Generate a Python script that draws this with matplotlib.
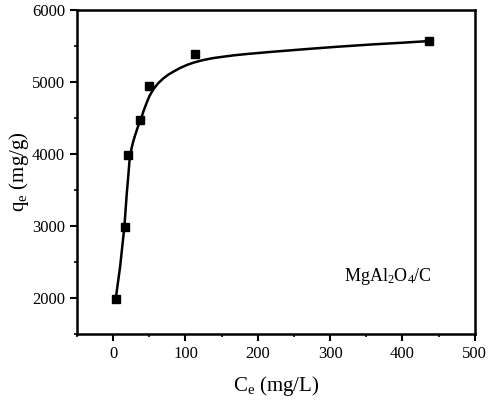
import numpy as np
import matplotlib
matplotlib.use("Agg")
import matplotlib.pyplot as plt
from matplotlib.ticker import MultipleLocator

plt.rcParams['font.family'] = ['Liberation Serif', 'DejaVu Serif']
plt.rcParams['mathtext.fontset'] = 'custom'
plt.rcParams['mathtext.rm'] = 'Liberation Serif'
plt.rcParams['mathtext.it'] = 'Liberation Serif:italic'

# experimental points
ce = [3.7, 16.6, 21.2, 37.7, 50.2, 113.7, 436.5]
qe = [1990, 2980, 3985, 4470, 4950, 5395, 5570]

# fitted curve
ce_fit = [3.7, 9.7, 15.6, 18.9, 21.2, 22.6, 24.0, 26.0, 28.0, 30.4, 34.0,
          38.2, 42.0, 46.5, 50.5, 55.7, 62.0, 69.5, 76.0, 83.3, 92.0,
          101.8, 112.0, 124.8, 138.0, 152.4, 168.0, 184.7, 220.0, 267.5,
          310.0, 359.5, 400.0, 436.5]
qe_fit = [1996, 2435, 2990, 3454, 3720, 3900, 4010, 4100, 4180, 4260, 4370,
          4475, 4595, 4715, 4810, 4900, 4980, 5051, 5100, 5144, 5192,
          5236, 5272, 5306, 5332, 5352, 5372, 5389, 5420, 5458,
          5490, 5523, 5546, 5569]

fig = plt.figure(figsize=(4.9, 4.01), dpi=100)
ax = fig.add_axes([0.157, 0.167, 0.812, 0.808])

ax.plot(ce_fit, qe_fit, color='black', lw=1.8, solid_joinstyle='round')
ax.plot(ce, qe, 's', color='black', ms=5.5)

ax.set_xlim(-50, 500)
ax.set_ylim(1500, 6000)
ax.xaxis.set_major_locator(MultipleLocator(100))
ax.xaxis.set_minor_locator(MultipleLocator(50))
ax.yaxis.set_major_locator(MultipleLocator(1000))
ax.yaxis.set_minor_locator(MultipleLocator(500))
ax.tick_params(which='major', direction='out', length=5, width=1.5, labelsize=12)
ax.tick_params(which='minor', direction='out', length=2.5, width=1.2)
for s in ax.spines.values():
    s.set_linewidth(1.8)

ax.set_xlabel(r'C$_\mathregular{e}$ (mg/L)', fontsize=15, labelpad=9)
ax.set_ylabel(r'q$_\mathregular{e}$ (mg/g)', fontsize=15)
ax.yaxis.set_label_coords(-0.115, 0.5)
ax.text(380, 2300, r'MgAl$_\mathregular{2}$O$_\mathregular{4}$/C', fontsize=13,
        ha='center', va='center')

fig.savefig('out.png', dpi=100)
